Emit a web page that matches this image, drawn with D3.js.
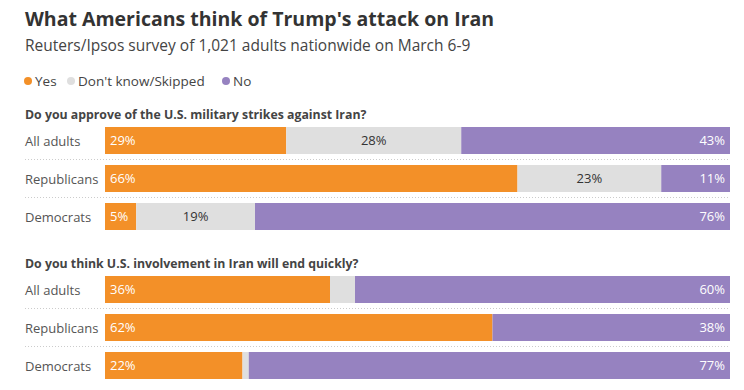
<!DOCTYPE html>
<html>
<head>
<meta charset="utf-8">
<script src="https://cdn.jsdelivr.net/npm/d3@7"></script>
<style>
  body { margin: 0; background: #fff; }
  text { font-family: "Open Sans", "Noto Sans", sans-serif; }
</style>
</head>
<body>
<svg id="chart" width="744" height="390"></svg>
<script>
var questions = ["Do you approve of the U.S. military strikes against Iran?",
                 "Do you think U.S. involvement in Iran will end quickly?"];
var groups = ["All adults", "Republicans", "Democrats"];
var seriesNames = ["Yes", "Don't know/Skipped", "No"];
// values per question, per group: [yes, dontKnow, no]
var q1Values = [[29, 28, 43], [66, 23, 11], [5, 19, 76]];
var q2Values = [[36, 4, 60], [62, 0, 38], [22, 1, 77]];
var allValues = [q1Values, q2Values];
var colors = ["#f39028", "#dfdfdf", "#9682c0"];

var svg = d3.select("#chart");

svg.append("text").attr("x", 25).attr("y", 26)
    .style("font-size", "19.5px").style("font-weight", "bold").style("fill", "#333")
    .text("What Americans think of Trump's attack on Iran");

svg.append("text").attr("x", 25).attr("y", 51)
    .style("font-size", "15.5px").style("fill", "#444")
    .text("Reuters/Ipsos survey of 1,021 adults nationwide on March 6-9");

// legend
var legendX = [28, 71, 226];
var legend = svg.append("g").attr("class", "legend");
seriesNames.forEach(function(name, i) {
    legend.append("circle").attr("cx", legendX[i]).attr("cy", 81).attr("r", 4).style("fill", colors[i]);
    legend.append("text").attr("x", legendX[i] + 7).attr("y", 86)
        .style("font-size", "13.5px").style("fill", "#444").text(name);
});

var x = d3.scaleLinear().domain([0, 100]).range([105, 730]);
var barTop = [127, 276];

questions.forEach(function(q, qi) {
    var top = barTop[qi];
    var g = svg.append("g");

    g.append("text").attr("x", 25).attr("y", top - 8)
        .style("font-size", "12.3px").style("font-weight", "bold").style("fill", "#444")
        .text(q);

    var y = d3.scaleBand().domain(groups).range([top, top + 103]).paddingInner(11 / 38).paddingOuter(0);

    var stacked = d3.stack().keys([0, 1, 2])(allValues[qi]);

    // separators
    groups.slice(0, 2).forEach(function(gr) {
        var ly = y(gr) + y.bandwidth() + 5.5;
        g.append("line")
            .attr("x1", 25).attr("x2", 730)
            .attr("y1", ly).attr("y2", ly)
            .style("stroke", "#ccc").style("stroke-dasharray", "1,2");
    });

    groups.forEach(function(gr) {
        g.append("text").attr("x", 25).attr("y", y(gr) + y.bandwidth() / 2 + 5)
            .style("font-size", "13px").style("fill", "#555").text(gr);
    });

    stacked.forEach(function(layer, si) {
        layer.forEach(function(d, gi) {
            var x0 = x(d[0]), x1 = x(d[1]);
            g.append("rect")
                .attr("x", x0).attr("y", y(groups[gi]))
                .attr("width", x1 - x0).attr("height", y.bandwidth())
                .style("fill", colors[si]);
            var v = d[1] - d[0];
            if (v < 5) return;
            var t = g.append("text").attr("y", y(groups[gi]) + y.bandwidth() / 2 + 4.5)
                .style("font-size", "13px").text(v + "%");
            if (si === 0) t.attr("x", x0 + 5).style("fill", "#fff");
            else if (si === 1) t.attr("x", (x0 + x1) / 2).attr("text-anchor", "middle").style("fill", "#333");
            else t.attr("x", x1 - 5).attr("text-anchor", "end").style("fill", "#fff");
        });
    });
});
</script>
</body>
</html>
